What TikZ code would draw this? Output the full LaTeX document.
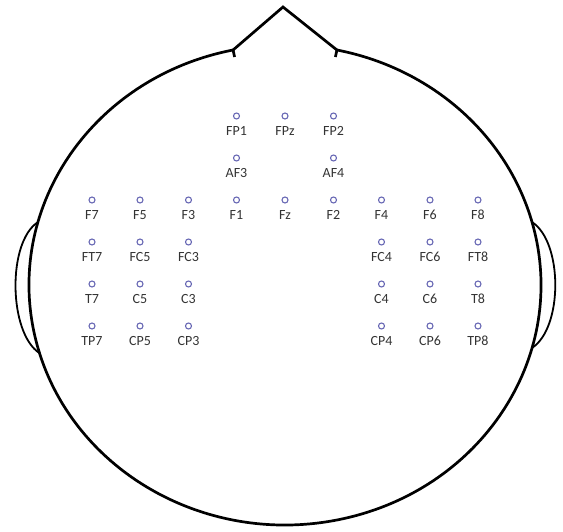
\documentclass[tikz,border=0pt]{standalone}
\usepackage{fontspec}
\setmainfont{Carlito}
\usepackage{tikz}
\usetikzlibrary{calc,positioning}
\definecolor{elecblue}{RGB}{104,104,180}
\tikzset{
  headline/.style ={draw=black, line width=2.7pt},
  earline/.style  ={draw=black, line width=1.8pt},
  elec/.style     ={draw=elecblue, circle, minimum size=6pt, inner sep=0pt,
                    line width=1.1pt},
  lbl/.style      ={font=\fontsize{14}{14}\selectfont, text=black!80,
                    inner sep=1pt, label distance=5.5pt},
}

\begin{document}
\begin{tikzpicture}[x=1pt, y=1pt]
\useasboundingbox (0,0) rectangle (563,531);

% head outline
\coordinate (ctr) at (285,246);
\coordinate (noseL) at ($(ctr)+(101.7:256pt and 240pt)$);
\coordinate (noseR) at ($(ctr)+(78.3:256pt and 240pt)$);
\coordinate (apex) at (283,524);
\draw[headline] (noseL) arc[start angle=101.7, end angle=438.3,
  x radius=256, y radius=240];
\draw[headline, line join=miter] (noseL) -- (apex) -- (noseR);
\draw[headline] (noseL) -- ++(1.5,-7);
\draw[headline] (noseR) -- ++(-1.5,-7);

% ears
\coordinate (earLt) at ($(ctr)+(164.8:256pt and 240pt)$);
\coordinate (earLb) at ($(ctr)+(196.5:256pt and 240pt)$);
\coordinate (earRt) at ($(ctr)+(15.2:256pt and 240pt)$);
\coordinate (earRb) at ($(ctr)+(-15.2:256pt and 240pt)$);
\draw[earline] (earLt) .. controls +(-31,-20) and +(-31,20) .. (earLb);
\draw[earline] (earRt) .. controls +(31,-20) and +(31,20) .. (earRb);

% electrodes
\node[elec, label={[lbl]below:FP1}] (FP1) at (236.5,415) {};
\node[elec, label={[lbl]below:FPz}] (FPz) at (285,415) {};
\node[elec, label={[lbl]below:FP2}] (FP2) at (333.5,415) {};

\node[elec, label={[lbl]below:AF3}] (AF3) at (236.5,373) {};
\node[elec, label={[lbl]below:AF4}] (AF4) at (333.5,373) {};

\node[elec, label={[lbl]below:F7}] (F7) at (92,331) {};
\node[elec, label={[lbl]below:F5}] (F5) at (140,331) {};
\node[elec, label={[lbl]below:F3}] (F3) at (188.5,331) {};
\node[elec, label={[lbl]below:F1}] (F1) at (236.5,331) {};
\node[elec, label={[lbl]below:Fz}] (Fz) at (285,331) {};
\node[elec, label={[lbl]below:F2}] (F2) at (333.5,331) {};
\node[elec, label={[lbl]below:F4}] (F4) at (381.5,331) {};
\node[elec, label={[lbl]below:F6}] (F6) at (430,331) {};
\node[elec, label={[lbl]below:F8}] (F8) at (478,331) {};

\node[elec, label={[lbl]below:FT7}] (FT7) at (92,289) {};
\node[elec, label={[lbl]below:FC5}] (FC5) at (140,289) {};
\node[elec, label={[lbl]below:FC3}] (FC3) at (188.5,289) {};
\node[elec, label={[lbl]below:FC4}] (FC4) at (381.5,289) {};
\node[elec, label={[lbl]below:FC6}] (FC6) at (430,289) {};
\node[elec, label={[lbl]below:FT8}] (FT8) at (478,289) {};

\node[elec, label={[lbl]below:T7}] (T7) at (92,247) {};
\node[elec, label={[lbl]below:C5}] (C5) at (140,247) {};
\node[elec, label={[lbl]below:C3}] (C3) at (188.5,247) {};
\node[elec, label={[lbl]below:C4}] (C4) at (381.5,247) {};
\node[elec, label={[lbl]below:C6}] (C6) at (430,247) {};
\node[elec, label={[lbl]below:T8}] (T8) at (478,247) {};

\node[elec, label={[lbl]below:TP7}] (TP7) at (92,205) {};
\node[elec, label={[lbl]below:CP5}] (CP5) at (140,205) {};
\node[elec, label={[lbl]below:CP3}] (CP3) at (188.5,205) {};
\node[elec, label={[lbl]below:CP4}] (CP4) at (381.5,205) {};
\node[elec, label={[lbl]below:CP6}] (CP6) at (430,205) {};
\node[elec, label={[lbl]below:TP8}] (TP8) at (478,205) {};

\end{tikzpicture}
\end{document}
